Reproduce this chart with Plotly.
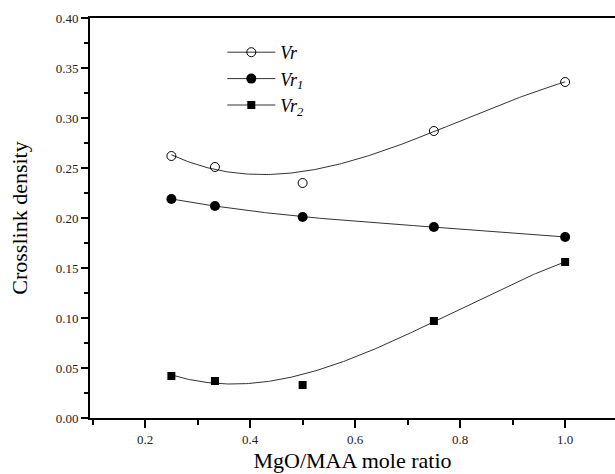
import numpy as np
import plotly.graph_objects as go

# Data
ratio = [0.25, 0.333, 0.5, 0.75, 1.0]
vr = [0.262, 0.251, 0.235, 0.287, 0.336]
vr1 = [0.219, 0.212, 0.201, 0.191, 0.181]
vr2 = [0.042, 0.037, 0.033, 0.097, 0.156]
fit_weights = [1, 1, 0.4, 1, 1]

x_ticks = [0.2, 0.4, 0.6, 0.8, 1.0]
y_ticks = [0.00, 0.05, 0.10, 0.15, 0.20, 0.25, 0.30, 0.35, 0.40]

FONT = "Liberation Serif, Times New Roman, serif"

xs = np.linspace(min(ratio), max(ratio), 200)


def fit_curve(y):
    c = np.polyfit(ratio, y, 3, w=fit_weights)
    return np.polyval(c, xs)


series = [
    ("<i>Vr</i>", vr, dict(symbol="circle-open", size=9, color="black", line=dict(width=1, color="black"))),
    ("<i>Vr<sub>1</sub></i>", vr1, dict(symbol="circle", size=10, color="black")),
    ("<i>Vr<sub>2</sub></i>", vr2, dict(symbol="square", size=8, color="black")),
]

fig = go.Figure()
for name, y, mk in series:
    fig.add_trace(go.Scatter(x=xs, y=fit_curve(y), mode="lines",
                             line=dict(color="#333333", width=1), showlegend=False, hoverinfo="skip"))
    fig.add_trace(go.Scatter(x=ratio, y=y, mode="markers", marker=mk, showlegend=False))
    # legend entry (line + marker)
    fig.add_trace(go.Scatter(x=[None], y=[None], mode="lines+markers", name=name,
                             marker=mk, line=dict(color="#333333", width=1)))

fig.update_layout(
    width=615, height=474,
    margin=dict(l=90, r=0, t=18, b=56),
    paper_bgcolor="white", plot_bgcolor="white",
    font=dict(family=FONT, color="black"),
    showlegend=True,
    legend=dict(x=0.252, y=0.96, xanchor="left", yanchor="top",
                bgcolor="rgba(0,0,0,0)", font=dict(size=18, family=FONT),
                itemwidth=48, tracegroupgap=0),
)
fig.update_xaxes(
    range=[0.095, 1.095], tickvals=x_ticks, ticktext=[f"{v:.1f}" for v in x_ticks],
    ticks="outside", ticklen=8, tickwidth=1.5, tickcolor="black",
    showline=True, linecolor="black", linewidth=2, mirror=True,
    showgrid=False, zeroline=False,
    tickfont=dict(size=13, color="#222"),
    minor=dict(dtick=0.1, tick0=0.1, ticks="outside", ticklen=5, tickwidth=1.5, tickcolor="black", showgrid=False),
    title=dict(text="MgO/MAA mole ratio", font=dict(size=22), standoff=7),
)
fig.update_yaxes(
    range=[0, 0.40], tickvals=y_ticks, ticktext=[f"{v:.2f}" for v in y_ticks],
    ticks="outside", ticklen=7, tickwidth=1.5, tickcolor="black",
    showline=True, linecolor="black", linewidth=2,
    showgrid=False, zeroline=False,
    tickfont=dict(size=13, color="#222"),
    minor=dict(dtick=0.025, tick0=0, ticks="outside", ticklen=4, tickwidth=1.5, tickcolor="black", showgrid=False),
    title=dict(text="Crosslink density", font=dict(size=22), standoff=22),
)

fig.write_html("out.html", config={"displayModeBar": False},
               post_script="document.body.style.margin='0';document.body.style.padding='0';document.body.style.overflow='hidden';")
